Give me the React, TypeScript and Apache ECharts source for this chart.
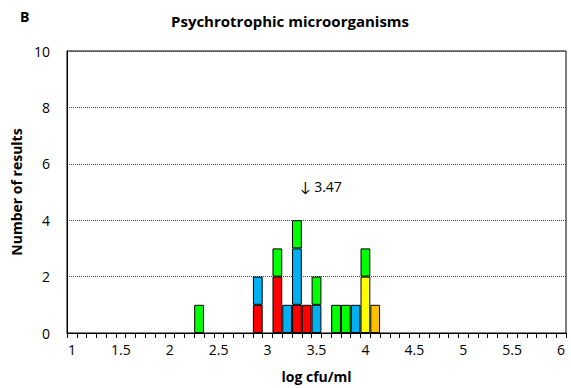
import React, { useEffect, useRef } from "react";
import * as echarts from "echarts";

// Histogram bins (log cfu/ml), 0.1 wide, from 1 to 6
const bins: string[] = [
  "1", "1.1", "1.2", "1.3", "1.4", "1.5", "1.6", "1.7", "1.8", "1.9",
  "2", "2.1", "2.2", "2.3", "2.4", "2.5", "2.6", "2.7", "2.8", "2.9",
  "3", "3.1", "3.2", "3.3", "3.4", "3.5", "3.6", "3.7", "3.8", "3.9",
  "4", "4.1", "4.2", "4.3", "4.4", "4.5", "4.6", "4.7", "4.8", "4.9",
  "5", "5.1", "5.2", "5.3", "5.4", "5.5", "5.6", "5.7", "5.8", "5.9",
  "6",
];

// Number of results per bin for each group (bins not listed are zero)
const redCounts: Record<string, number> = { "2.9": 1, "3.1": 2, "3.3": 1, "3.4": 1 };
const blueCounts: Record<string, number> = { "2.9": 1, "3.2": 1, "3.3": 2, "3.5": 1, "3.9": 1 };
const yellowCounts: Record<string, number> = { "4": 2 };
const orangeCounts: Record<string, number> = { "4.1": 1 };
const greenCounts: Record<string, number> = {
  "2.3": 1, "3.1": 1, "3.3": 1, "3.5": 1, "3.7": 1, "3.8": 1, "4": 1,
};

const yTicks = [0, 2, 4, 6, 8, 10];
const assignedValueLabel = "↓ 3.47";

const FONT = "'Open Sans', Lato, sans-serif";

const groups = [
  { name: "red", counts: redCounts, color: "#FF0000" },
  { name: "blue", counts: blueCounts, color: "#00B0F0" },
  { name: "yellow", counts: yellowCounts, color: "#FFFF00" },
  { name: "orange", counts: orangeCounts, color: "#FFC000" },
  { name: "green", counts: greenCounts, color: "#00FF00" },
];

export default function App() {
  const ref = useRef<HTMLDivElement>(null);

  useEffect(() => {
    if (!ref.current) return;
    const chart = echarts.init(ref.current, null, { renderer: "svg" });

    const series = groups.map((g) => ({
      name: g.name,
      type: "bar" as const,
      stack: "results",
      barCategoryGap: "0%",
      data: bins.map((b) => (g.counts[b] ? g.counts[b] : null)),
      itemStyle: { color: g.color, borderColor: "#000", borderWidth: 1 },
    }));

    chart.setOption({
      animation: false,
      textStyle: { fontFamily: FONT },
      title: {
        text: "Psychrotrophic microorganisms",
        left: 166,
        top: 8,
        textStyle: { fontFamily: FONT, fontSize: 15, fontWeight: "bold", color: "#000" },
      },
      grid: {
        left: 67,
        right: 5,
        top: 51,
        bottom: 55,
        show: true,
        borderColor: "#000",
        borderWidth: 1,
        backgroundColor: "transparent",
      },
      graphic: [
        {
          type: "text",
          left: 20,
          top: 9,
          style: { text: "B", font: `bold 14px ${FONT}`, fill: "#000" },
        },
        {
          type: "text",
          left: 300,
          top: 179,
          style: { text: assignedValueLabel, font: `14px ${FONT}`, fill: "#000" },
        },
      ],
      xAxis: {
        type: "category",
        data: bins,
        name: "log cfu/ml",
        nameLocation: "middle",
        nameGap: 36,
        nameTextStyle: { fontFamily: FONT, fontSize: 14, fontWeight: "bold", color: "#000" },
        axisLine: { lineStyle: { color: "#000", width: 1 } },
        axisTick: { show: true, interval: 0, length: 5, lineStyle: { color: "#000" } },
        axisLabel: { interval: 4, color: "#000", fontSize: 14, fontFamily: FONT, margin: 9 },
        splitLine: { show: false },
      },
      yAxis: {
        type: "value",
        min: yTicks[0],
        max: yTicks[yTicks.length - 1],
        interval: 2,
        name: "Number of results",
        nameLocation: "middle",
        nameGap: 40,
        nameTextStyle: { fontFamily: FONT, fontSize: 14, fontWeight: "bold", color: "#000" },
        axisLine: { show: true, lineStyle: { color: "#000" } },
        axisTick: { show: false },
        axisLabel: { color: "#000", fontSize: 14, fontFamily: FONT, margin: 17 },
        splitLine: { show: true, lineStyle: { color: "#444", type: [1, 1], width: 1 } },
      },
      series,
    });

    return () => chart.dispose();
  }, []);

  return (
    <div
      ref={ref}
      style={{ position: "fixed", left: 0, top: 0, width: 571, height: 388, background: "#fff" }}
    />
  );
}
